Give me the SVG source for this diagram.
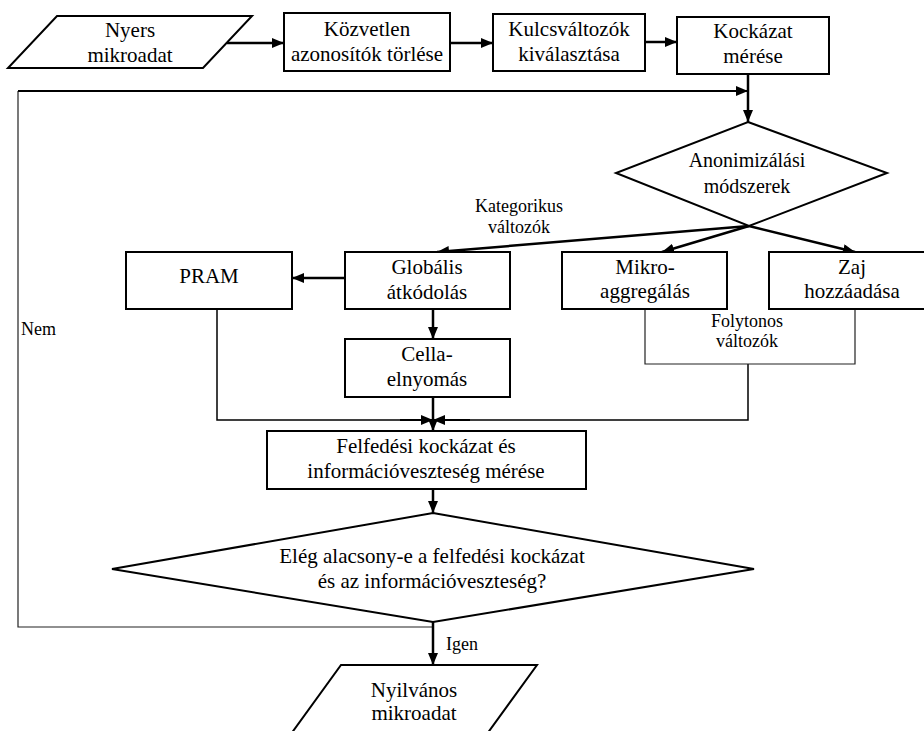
<svg xmlns="http://www.w3.org/2000/svg" width="924" height="731" viewBox="0 0 924 731">
<defs>
<marker id="ah" viewBox="0 0 12 10" refX="12" refY="5" markerWidth="12" markerHeight="10" markerUnits="userSpaceOnUse" orient="auto">
<path d="M0,0 L12,5 L0,10 Z" fill="#000"/>
</marker>
<style>
.box{fill:#fff;stroke:#000;stroke-width:2}
.t{font-family:'Liberation Serif',serif;font-size:21px;fill:#000;text-anchor:middle}
.s{font-family:'Liberation Serif',serif;font-size:18px;fill:#000;text-anchor:middle}
.a{fill:none;stroke:#000;stroke-width:2.5;marker-end:url(#ah)}
.th{fill:none;stroke:#000;stroke-width:1.5}
.thin{fill:none;stroke:#222;stroke-width:1.2}
</style>
</defs>
<rect width="924" height="731" fill="#fff"/>

<g id="connectors">
<line class="a" x1="227" y1="43" x2="284" y2="43"/>
<line class="a" x1="450" y1="43" x2="493" y2="43"/>
<line class="a" x1="645" y1="42" x2="677" y2="42"/>
<line class="a" x1="748" y1="74" x2="748" y2="122"/>
<polyline class="thin" points="433,627 18,627 18,91"/>
<polyline class="a" style="stroke-width:2" points="18,91 748,91"/>
<line class="a" x1="749" y1="226" x2="437" y2="252"/>
<line class="a" x1="749" y1="226" x2="662" y2="252"/>
<line class="a" x1="749" y1="226" x2="855" y2="252"/>
<line class="a" x1="345" y1="278" x2="292" y2="278"/>
<line class="a" x1="433" y1="309" x2="433" y2="339"/>
<polyline class="th" points="217,309 217,420 400,420"/>
<line class="a" style="stroke-width:2" x1="400" y1="420" x2="433" y2="420"/>
<polyline class="th" points="748,364 748,420 470,420"/>
<line class="a" style="stroke-width:2" x1="470" y1="420" x2="433" y2="420"/>
<line class="a" x1="433" y1="397" x2="433" y2="431"/>
<polyline class="thin" points="645,309 645,364 855,364 855,309"/>
<line class="a" x1="433" y1="489" x2="433" y2="513"/>
<line class="a" x1="433" y1="622" x2="433" y2="665"/>
</g>

<g id="nyers">
<polygon class="box" points="57,16 252,16 203,68 8,68"/>
<text class="t" x="130" y="37">Nyers</text>
<text class="t" x="130" y="62">mikroadat</text>
</g>
<g id="kozvetlen">
<rect class="box" x="284" y="13" width="166" height="58"/>
<text class="t" x="367" y="36">Közvetlen</text>
<text class="t" x="367" y="61">azonosítók törlése</text>
</g>
<g id="kulcs">
<rect class="box" x="493" y="14" width="152" height="57"/>
<text class="t" x="569" y="36">Kulcsváltozók</text>
<text class="t" x="569" y="61">kiválasztása</text>
</g>
<g id="kockazat">
<rect class="box" x="677" y="17" width="152" height="57"/>
<text class="t" x="753" y="38">Kockázat</text>
<text class="t" x="753" y="63">mérése</text>
</g>
<g id="anonim">
<polygon class="box" points="748,122 887,173 749,226 616,173"/>
<text class="t" x="747" y="167" style="font-size:20px">Anonimizálási</text>
<text class="t" x="747" y="193" style="font-size:20px">módszerek</text>
</g>
<g id="kategorikus-label">
<text class="s" x="519" y="212">Kategorikus</text>
<text class="s" x="519" y="233">változók</text>
</g>
<g id="pram">
<rect class="box" x="126" y="252" width="166" height="57"/>
<text class="t" x="209" y="283">PRAM</text>
</g>
<g id="globalis">
<rect class="box" x="345" y="252" width="165" height="57"/>
<text class="t" x="427" y="274">Globális</text>
<text class="t" x="427" y="299">átkódolás</text>
</g>
<g id="cella">
<rect class="box" x="345" y="339" width="165" height="58"/>
<text class="t" x="427" y="361">Cella-</text>
<text class="t" x="427" y="386">elnyomás</text>
</g>
<g id="mikro">
<rect class="box" x="562" y="252" width="165" height="57"/>
<text class="t" x="645" y="274">Mikro-</text>
<text class="t" x="645" y="298">aggregálás</text>
</g>
<g id="zaj">
<rect class="box" x="769" y="252" width="166" height="57"/>
<text class="t" x="852" y="274">Zaj</text>
<text class="t" x="852" y="298">hozzáadása</text>
</g>
<g id="folytonos-label">
<text class="s" x="747" y="327">Folytonos</text>
<text class="s" x="747" y="347">változók</text>
</g>
<g id="felfedes">
<rect class="box" x="267" y="431" width="319" height="58"/>
<text class="t" x="426" y="453">Felfedési kockázat és</text>
<text class="t" x="426" y="478">információveszteség mérése</text>
</g>
<g id="eleg">
<polygon class="box" points="433,513 754,569 433,622 112,569"/>
<text class="t" x="432" y="563">Elég alacsony-e a felfedési kockázat</text>
<text class="t" x="432" y="588">és az információveszteség?</text>
</g>
<g id="labels">
<text class="s" x="21" y="335" style="text-anchor:start">Nem</text>
<text class="s" x="446" y="650" style="text-anchor:start">Igen</text>
</g>
<g id="nyilvanos">
<polygon class="box" points="341,665 537,665 479,745 283,745"/>
<text class="t" x="414" y="697">Nyilvános</text>
<text class="t" x="414" y="720">mikroadat</text>
</g>
</svg>
